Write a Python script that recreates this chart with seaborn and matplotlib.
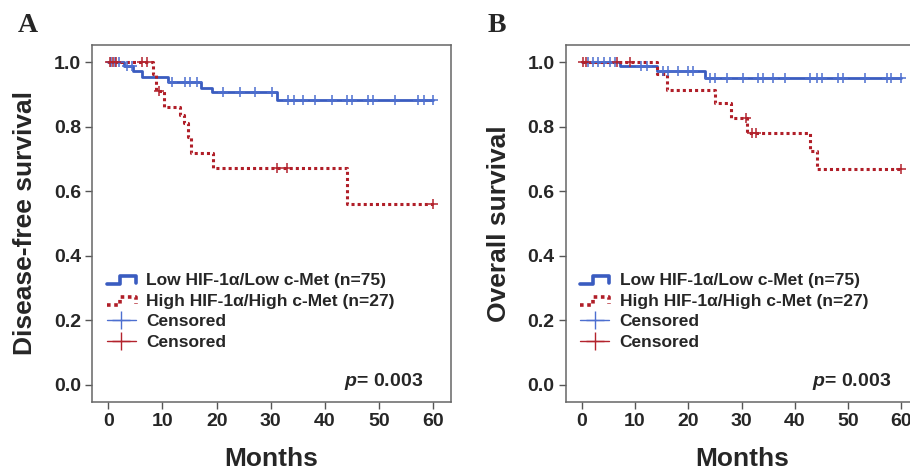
import numpy as np
import pandas as pd
import matplotlib
matplotlib.use('Agg')
import matplotlib.pyplot as plt
import seaborn as sns
from matplotlib.lines import Line2D
from matplotlib.legend_handler import HandlerLine2D

# panel A: disease-free survival (step times in months, survival after each step)
dfs_low_times = [0, 2.9, 4.6, 6.2, 11.1, 17.2, 19.1, 31.1, 60]
dfs_low_surv = [1.0, 0.987, 0.973, 0.955, 0.937, 0.921, 0.906, 0.884, 0.884]
dfs_low_cens = [0.5, 1.2, 2.0, 3.4, 4.3, 11.7, 14.2, 15.1, 16.3, 21.2, 24.3, 27.1, 30.2,
                33.2, 34.2, 36.0, 38.2, 41.2, 44.0, 44.9, 48.0, 48.9, 52.9, 57.2, 58.2, 60.0]
dfs_high_times = [0, 8.3, 8.9, 10.2, 13.2, 14.0, 14.8, 15.3, 19.4, 44.0, 60]
dfs_high_surv = [1.0, 0.963, 0.911, 0.862, 0.835, 0.810, 0.769, 0.719, 0.671, 0.560, 0.560]
dfs_high_cens = [0.3, 0.9, 1.5, 6.2, 7.1, 9.4, 31.1, 32.9, 60.0]

# panel B: overall survival
os_low_times = [0, 7.2, 14.2, 23.1, 60]
os_low_surv = [1.0, 0.987, 0.973, 0.952, 0.952]
os_low_cens = [1.2, 2.2, 3.1, 4.1, 5.3, 6.2, 11.2, 12.2, 15.3, 16.2, 18.1, 20.0, 20.9,
               24.1, 25.0, 27.2, 30.2, 33.1, 34.0, 35.9, 38.1, 42.8, 44.1, 45.0, 48.1,
               49.1, 53.1, 57.2, 58.1, 60.0]
os_high_times = [0, 14.2, 16.1, 25.0, 28.1, 31.0, 42.9, 44.1, 60]
os_high_surv = [1.0, 0.963, 0.914, 0.873, 0.826, 0.779, 0.725, 0.670, 0.670]
os_high_cens = [0.3, 0.9, 6.6, 9.1, 30.9, 31.9, 32.8, 60.0]

group_labels = ['Low HIF-1\u03b1/Low c-Met (n=75)', 'High HIF-1\u03b1/High c-Met (n=27)',
                'Censored', 'Censored']
p_text = '$p$= 0.003'

blue = '#3a5cc0'
red = '#b01e28'
blue_cens = '#4d6fd0'
red_cens = '#b3232d'


class StepHandler(HandlerLine2D):
    # draws the little step icon used in the legend
    def create_artists(self, legend, orig_handle, xdescent, ydescent, width, height, fontsize, trans):
        x = np.array([0, 0.45, 0.45, 1.0, 1.0]) * width - xdescent
        y = np.array([0.05, 0.05, 0.7, 0.7, 0.15]) * height - ydescent
        line = Line2D(x, y)
        self.update_prop(line, orig_handle, legend)
        line.set_transform(trans)
        return [line]


def step_value(times, surv, t):
    idx = np.searchsorted(times, t, side='right') - 1
    return np.array(surv)[idx]


def draw_km(ax, times, surv, cens, color, cens_color, dotted):
    df = pd.DataFrame({'month': times, 'surv': surv})
    if dotted:
        sns.lineplot(data=df, x='month', y='surv', ax=ax, color=color, lw=2.2,
                     drawstyle='steps-post', linestyle=(0, (1, 1)), estimator=None, sort=False)
    else:
        sns.lineplot(data=df, x='month', y='surv', ax=ax, color=color, lw=2.0,
                     drawstyle='steps-post', estimator=None, sort=False)
    cdf = pd.DataFrame({'month': cens, 'surv': step_value(times, surv, np.array(cens))})
    sns.scatterplot(data=cdf, x='month', y='surv', ax=ax, marker='+', s=60,
                    color=cens_color, linewidth=1.1, zorder=5)


sns.set_style('ticks')
plt.rcParams['font.family'] = ['Liberation Sans', 'DejaVu Sans']
plt.rcParams['mathtext.fontset'] = 'custom'
plt.rcParams['mathtext.it'] = 'Liberation Sans:italic:bold'
plt.rcParams['mathtext.rm'] = 'Liberation Sans:bold'

fig = plt.figure(figsize=(9.10, 4.69), dpi=100)
ax_a = fig.add_axes([0.1011, 0.1429, 0.3942, 0.7612])
ax_b = fig.add_axes([0.6216, 0.1429, 0.3878, 0.7612])

panels = [
    (ax_a, 'Disease-free survival', dfs_low_times, dfs_low_surv, dfs_low_cens,
     dfs_high_times, dfs_high_surv, dfs_high_cens),
    (ax_b, 'Overall survival', os_low_times, os_low_surv, os_low_cens,
     os_high_times, os_high_surv, os_high_cens),
]

for ax, ylab, lt, ls, lc, ht, hs, hc in panels:
    draw_km(ax, lt, ls, lc, blue, blue_cens, False)
    draw_km(ax, ht, hs, hc, red, red_cens, True)

    ax.set_xlim(-3, 63.2)
    ax.set_ylim(-0.053, 1.053)
    ax.set_xticks(np.arange(0, 61, 10))
    ax.set_yticks(np.arange(0, 1.01, 0.2))
    ax.set_yticklabels([f'{v:.1f}' for v in np.arange(0, 1.01, 0.2)])
    ax.tick_params(direction='out', length=5, width=1, color='#555555',
                   labelsize=14, pad=3)
    for lab in ax.get_xticklabels() + ax.get_yticklabels():
        lab.set_fontweight('bold')
    for sp in ax.spines.values():
        sp.set_visible(True)
        sp.set_color('#666666')
        sp.set_linewidth(1.1)
    ax.set_xlabel('Months', fontsize=19, fontweight='bold', labelpad=12)
    ax.set_ylabel(ylab, fontsize=19, fontweight='bold', labelpad=12)

    handles = [
        Line2D([], [], color=blue, lw=2.6),
        Line2D([], [], color=red, lw=2.6, linestyle=(0, (1, 1))),
        Line2D([], [], color=blue_cens, lw=1.0, marker='+', markersize=13, markeredgewidth=1.0),
        Line2D([], [], color=red_cens, lw=1.0, marker='+', markersize=13, markeredgewidth=1.0),
    ]
    ax.legend(handles, group_labels, loc='upper left', bbox_to_anchor=(0.042, 0.362),
              frameon=False, prop={'weight': 'bold', 'size': 12.5},
              handlelength=1.65, handletextpad=0.6, labelspacing=0.32,
              borderaxespad=0, borderpad=0,
              handler_map={handles[0]: StepHandler(), handles[1]: StepHandler()})
    ax.text(0.923, 0.045, p_text, transform=ax.transAxes, ha='right', va='baseline',
            fontsize=14, fontweight='bold')

fig.text(0.031, 0.945, 'A', fontsize=20, fontweight='bold', family='Liberation Serif',
         ha='center', va='center')
fig.text(0.546, 0.945, 'B', fontsize=20, fontweight='bold', family='Liberation Serif',
         ha='center', va='center')

fig.savefig('out.png', dpi=100)
